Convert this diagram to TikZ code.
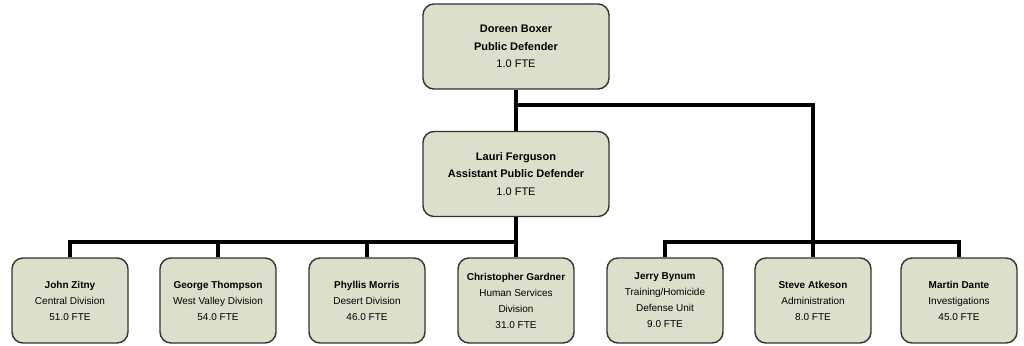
\documentclass[tikz,border=0pt]{standalone}
\usepackage{fontspec}
\setmainfont{Liberation Sans}
\definecolor{boxfill}{RGB}{221,223,203}
\definecolor{boxline}{RGB}{50,50,50}
\begin{document}
\begin{tikzpicture}[x=1pt,y=-1pt,
  box/.style={draw=boxline,fill=boxfill,line width=1.4pt,rounded corners=11pt,align=center,inner sep=0pt},
  bigbox/.style={box,minimum width=186pt,minimum height=85pt,font=\fontsize{11}{17.5}\selectfont},
  smallbox/.style={box,minimum width=116pt,minimum height=85pt,font=\fontsize{10}{16}\selectfont},
  conn/.style={line width=3.2pt,black}]
\useasboundingbox (0,0) rectangle (1024,345);
\node[bigbox] (top) at (516,46.5) {\textbf{Doreen Boxer}\\\textbf{Public Defender}\\1.0 FTE};
\node[bigbox] (lauri) at (516,174) {\textbf{Lauri Ferguson}\\\textbf{Assistant Public Defender}\\1.0 FTE};
\node[smallbox] (john) at (70,300.5) {\textbf{John Zitny}\\Central Division\\51.0 FTE};
\node[smallbox] (george) at (218,300.5) {\textbf{George Thompson}\\West Valley Division\\54.0 FTE};
\node[smallbox] (phyllis) at (367,300.5) {\textbf{Phyllis Morris}\\Desert Division\\46.0 FTE};
\node[smallbox] (chris) at (516,300.5) {\textbf{Christopher Gardner}\\Human Services\\Division\\31.0 FTE};
\node[smallbox] (jerry) at (665,300.5) {\textbf{Jerry Bynum}\\Training/Homicide\\Defense Unit\\9.0 FTE};
\node[smallbox] (steve) at (813,300.5) {\textbf{Steve Atkeson}\\Administration\\8.0 FTE};
\node[smallbox] (martin) at (959,300.5) {\textbf{Martin Dante}\\Investigations\\45.0 FTE};
\coordinate (busT) at (516,105);
\coordinate (busL) at (516,242);
\coordinate (busR) at (813,242);
\draw[conn] (top.south) -- (lauri.north);
\draw[conn] (busT) -| (steve.north);
\draw[conn] (lauri.south) -- (chris.north);
\draw[conn] (john.north) |- (busL);
\draw[conn] (george.north) |- (busL);
\draw[conn] (phyllis.north) |- (busL);
\draw[conn] (jerry.north) |- (busR);
\draw[conn] (martin.north) |- (busR);
\end{tikzpicture}
\end{document}
